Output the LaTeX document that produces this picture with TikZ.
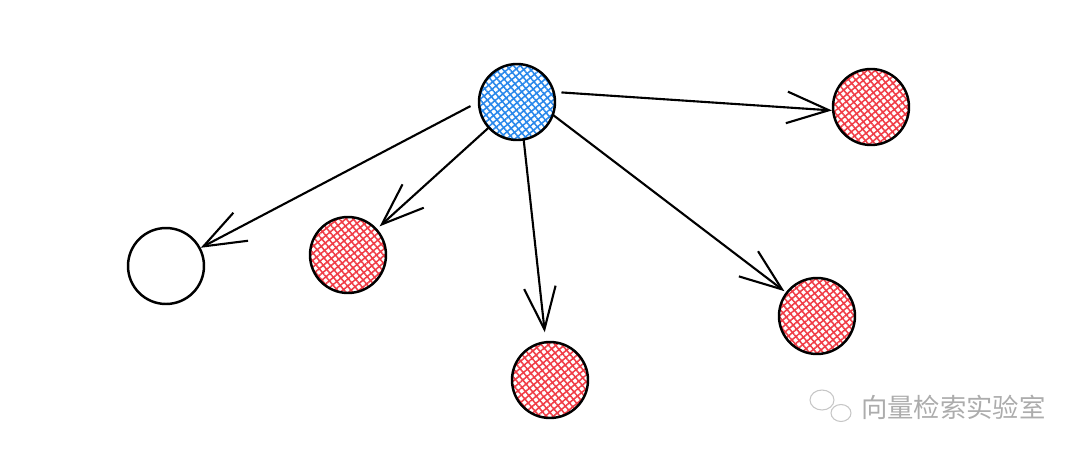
\documentclass[tikz,border=0pt]{standalone}
\usepackage{fontspec}
\newfontfamily\cjk{Noto Sans CJK SC}
\usetikzlibrary{arrows.meta, patterns.meta}
\definecolor{hatchblue}{RGB}{40,135,235}
\definecolor{hatchred}{RGB}{240,60,70}
\begin{document}
\begin{tikzpicture}[x=0.02cm, y=-0.02cm,
    vec/.style={draw, circle, line width=1.4pt, minimum size=1.52cm, inner sep=0pt},
    hatched/.style={preaction={pattern={Lines[angle=40, distance=3pt, line width=0.9pt]}, pattern color=#1},
                    pattern={Lines[angle=-50, distance=3pt, line width=0.9pt]}, pattern color=#1},
    link/.style={line width=1.2pt, -{Straight Barb[length=24pt, width=18pt, line width=1.2pt]}}]
    \useasboundingbox (0,0) rectangle (1080,454);
    % Nodes
    \node[vec, hatched=hatchblue] (query) at (517,102) {};
    \node[vec] (far) at (166,266) {};
    \node[vec, hatched=hatchred] (left) at (348,255) {};
    \node[vec, hatched=hatchred] (bottom) at (550,380) {};
    \node[vec, hatched=hatchred] (right) at (817,316) {};
    \node[vec, hatched=hatchred] (top) at (871,107) {};
    
    % Arrows
    \draw[link, shorten <=5pt] (query.180) -- (far);
    \draw[link, shorten >=2pt] (query) -- (left);
    \draw[link, shorten >=5pt] (query.-80) -- (bottom);
    \draw[link, shorten >=1pt] (query.-20) -- (right);
    \draw[link, shorten <=4pt] (query.15) -- (top.185);
    
    % Watermark
    \draw[gray!45, line width=0.6pt] (822,400) ellipse (12 and 10);
    \draw[gray!45, fill=white, line width=0.6pt] (841,413) ellipse (10 and 8.5);
    \node[gray!65, font=\cjk\fontsize{15}{18}\selectfont, anchor=west] (mark) at (855,407) {向量检索实验室};
\end{tikzpicture}
\end{document}
